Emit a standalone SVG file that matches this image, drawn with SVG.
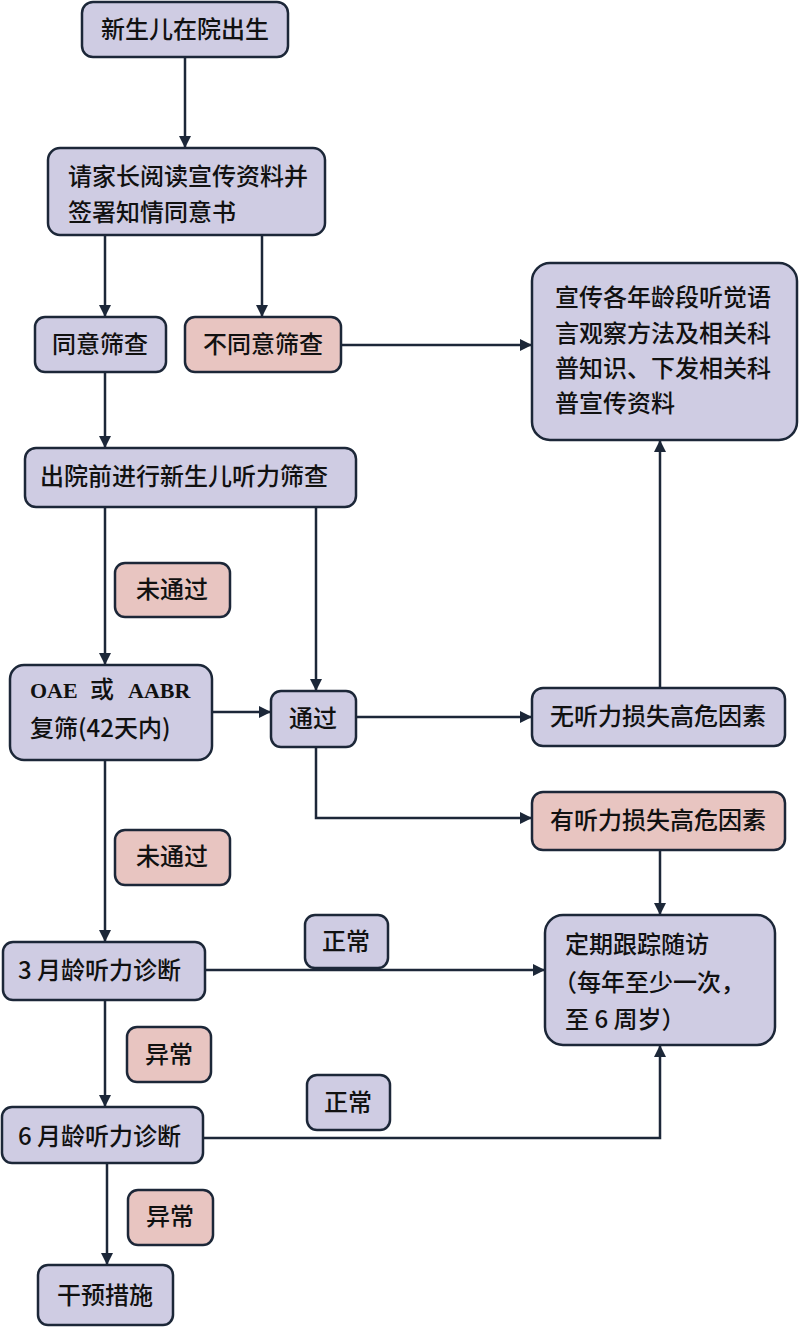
<svg xmlns="http://www.w3.org/2000/svg" width="800" height="1327" viewBox="0 0 800 1327">
<style>
.n{fill:#cfcce3;stroke:#1c2738;stroke-width:2.5}
.p{fill:#e8c5c1;stroke:#1c2738;stroke-width:2.5}
.t{font-family:"Noto Sans CJK SC","Liberation Sans",sans-serif;font-size:24px;font-weight:500;fill:#111}
.c{text-anchor:middle}
.l{fill:none;stroke:#1c2738;stroke-width:2.5}
.s{font-family:"Liberation Serif","Noto Sans CJK SC",serif;font-weight:bold;font-size:22px;fill:#111}
</style>
<defs>
<marker id="a" viewBox="0 0 12 12" refX="11" refY="6" markerWidth="12" markerHeight="12" markerUnits="userSpaceOnUse" orient="auto">
<path d="M0,0 L12,6 L0,12 z" fill="#1c2738"/>
</marker>
</defs>
<rect width="800" height="1327" fill="#ffffff"/>
<g id="connectors">
<line class="l" x1="185" y1="57" x2="185" y2="147" marker-end="url(#a)"/>
<line class="l" x1="105" y1="235" x2="105" y2="316" marker-end="url(#a)"/>
<line class="l" x1="262" y1="235" x2="262" y2="316" marker-end="url(#a)"/>
<line class="l" x1="341" y1="345" x2="531" y2="345" marker-end="url(#a)"/>
<line class="l" x1="105" y1="372" x2="105" y2="447" marker-end="url(#a)"/>
<line class="l" x1="105" y1="507" x2="105" y2="664" marker-end="url(#a)"/>
<line class="l" x1="316" y1="507" x2="316" y2="690" marker-end="url(#a)"/>
<line class="l" x1="212" y1="712" x2="270" y2="712" marker-end="url(#a)"/>
<line class="l" x1="356" y1="717" x2="531" y2="717" marker-end="url(#a)"/>
<polyline class="l" points="316,747 316,818 531,818" marker-end="url(#a)"/>
<line class="l" x1="660" y1="688" x2="660" y2="441" marker-end="url(#a)"/>
<line class="l" x1="660" y1="850" x2="660" y2="914" marker-end="url(#a)"/>
<line class="l" x1="105" y1="760" x2="105" y2="941" marker-end="url(#a)"/>
<line class="l" x1="205" y1="970" x2="544" y2="970" marker-end="url(#a)"/>
<line class="l" x1="105" y1="1000" x2="105" y2="1106" marker-end="url(#a)"/>
<polyline class="l" points="203,1138 660,1138 660,1046" marker-end="url(#a)"/>
<line class="l" x1="107" y1="1163" x2="107" y2="1264" marker-end="url(#a)"/>
</g>
<g id="n1"><rect class="n" x="82" y="2" width="206" height="55" rx="11"/><text class="t c" x="185" y="38">新生儿在院出生</text></g>
<g id="n2"><rect class="n" x="48" y="148" width="277" height="87" rx="12"/><text class="t" x="68" y="185">请家长阅读宣传资料并</text><text class="t" x="68" y="221">签署知情同意书</text></g>
<g id="n3"><rect class="n" x="35" y="317" width="131" height="55" rx="10"/><text class="t c" x="100" y="353">同意筛查</text></g>
<g id="n4"><rect class="p" x="185" y="317" width="156" height="55" rx="10"/><text class="t c" x="263" y="353">不同意筛查</text></g>
<g id="n5"><rect class="n" x="532" y="263" width="265" height="177" rx="18"/><text class="t" x="555" y="306">宣传各年龄段听觉语</text><text class="t" x="555" y="342">言观察方法及相关科</text><text class="t" x="555" y="377">普知识、下发相关科</text><text class="t" x="555" y="412">普宣传资料</text></g>
<g id="n6"><rect class="n" x="25" y="448" width="331" height="59" rx="11"/><text class="t" x="40" y="485">出院前进行新生儿听力筛查</text></g>
<g id="n7"><rect class="p" x="115" y="563" width="115" height="54" rx="10"/><text class="t c" x="172" y="598">未通过</text></g>
<g id="n8"><rect class="n" x="10" y="665" width="202" height="95" rx="14"/><text class="s" x="30" y="698">OAE</text><text class="t" x="90" y="698">或</text><text class="s" x="128" y="698">AABR</text><text class="t" x="30" y="737">复筛(42天内)</text></g>
<g id="n9"><rect class="n" x="271" y="691" width="85" height="56" rx="10"/><text class="t c" x="313" y="727">通过</text></g>
<g id="n10"><rect class="n" x="532" y="688" width="253" height="58" rx="11"/><text class="t c" x="658" y="725">无听力损失高危因素</text></g>
<g id="n11"><rect class="p" x="532" y="792" width="253" height="58" rx="11"/><text class="t c" x="658" y="829">有听力损失高危因素</text></g>
<g id="n12"><rect class="p" x="115" y="830" width="115" height="55" rx="10"/><text class="t c" x="172" y="865">未通过</text></g>
<g id="n13"><rect class="n" x="3" y="942" width="202" height="58" rx="10"/><text class="t" x="18" y="979">3 月龄听力诊断</text></g>
<g id="n14"><rect class="n" x="305" y="915" width="83" height="53" rx="10"/><text class="t c" x="346" y="950">正常</text></g>
<g id="n15"><rect class="n" x="545" y="915" width="230" height="130" rx="18"/><text class="t" x="565" y="953">定期跟踪随访</text><text class="t" x="553" y="991">（每年至少一次，</text><text class="t" x="565" y="1028">至 6 周岁）</text></g>
<g id="n16"><rect class="p" x="127" y="1027" width="84" height="55" rx="10"/><text class="t c" x="169" y="1063">异常</text></g>
<g id="n17"><rect class="n" x="2" y="1107" width="201" height="56" rx="10"/><text class="t" x="18" y="1145">6 月龄听力诊断</text></g>
<g id="n18"><rect class="n" x="307" y="1075" width="83" height="55" rx="10"/><text class="t c" x="348" y="1111">正常</text></g>
<g id="n19"><rect class="p" x="128" y="1190" width="85" height="55" rx="10"/><text class="t c" x="170" y="1225">异常</text></g>
<g id="n20"><rect class="n" x="38" y="1265" width="135" height="60" rx="10"/><text class="t c" x="105" y="1304">干预措施</text></g>
</svg>
